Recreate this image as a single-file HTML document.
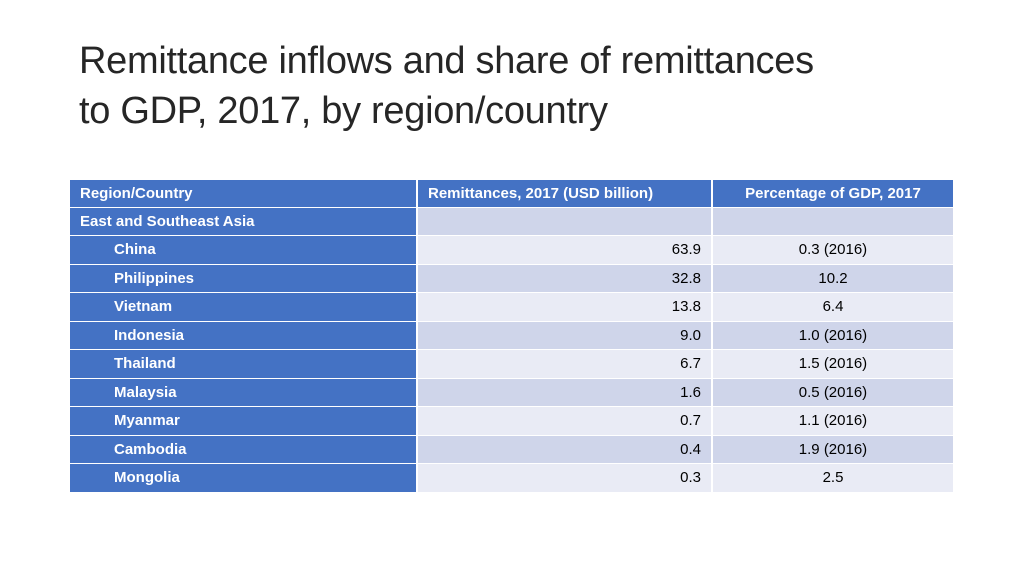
<!DOCTYPE html>
<html><head><meta charset="utf-8"><style>
body{margin:0;width:1024px;height:576px;background:#fff;position:relative;overflow:hidden;font-family:"Liberation Sans",Arial,sans-serif}
h1{position:absolute;left:79px;top:36px;margin:0;font-weight:normal;font-size:38px;line-height:50px;color:#262626;letter-spacing:-0.3px}
.c{position:absolute;font-size:15px;line-height:27px;box-sizing:border-box;white-space:nowrap}
.h{background:#4472C4;color:#fff;font-weight:bold}
.d{background:#CFD5EA;color:#000}
.l{background:#E9EBF5;color:#000}
</style></head><body>
<h1>Remittance inflows and share of remittances<br>to GDP, 2017, by region/country</h1>
<div id="t"></div>
<script>
const names=["East and Southeast Asia","China","Philippines","Vietnam","Indonesia","Thailand","Malaysia","Myanmar","Cambodia","Mongolia"];
const remit=["","63.9","32.8","13.8","9.0","6.7","1.6","0.7","0.4","0.3"];
const pct=["","0.3 (2016)","10.2","6.4","1.0 (2016)","1.5 (2016)","0.5 (2016)","1.1 (2016)","1.9 (2016)","2.5"];
const t=document.getElementById('t');
const cols=[[70,346],[418,293],[713,240]];
function cell(x,y,w,h,cls,txt,style,name){
 const d=document.createElement('div');
 d.className='c '+cls;
 
 
 d.style.cssText=`left:${x}px;top:${y}px;width:${w}px;height:${h}px;`+style;
 d.textContent=txt;t.appendChild(d);
}
cell(70,180,346,27,'h','Region/Country','padding-left:10px','header-region');
cell(418,180,293,27,'h','Remittances, 2017 (USD billion)','padding-left:10px','header-remittances');
cell(713,180,240,27,'h','Percentage of GDP, 2017','text-align:center','header-gdp-share');
for(let i=0;i<names.length;i++){
 const y=Math.round(208+i*28.45);
 const h=Math.round(208+(i+1)*28.45)-y-1;
 const bg=i%2==0?'d':'l';
 cell(70,y,346,h,'h',names[i],'padding-left:'+(i==0?10:44)+'px','row-label');
 cell(418,y,293,h,bg,remit[i],'text-align:right;padding-right:10px','remittance-value');
 cell(713,y,240,h,bg,pct[i],'text-align:center','gdp-share-value');
}
</script>
</body></html>
